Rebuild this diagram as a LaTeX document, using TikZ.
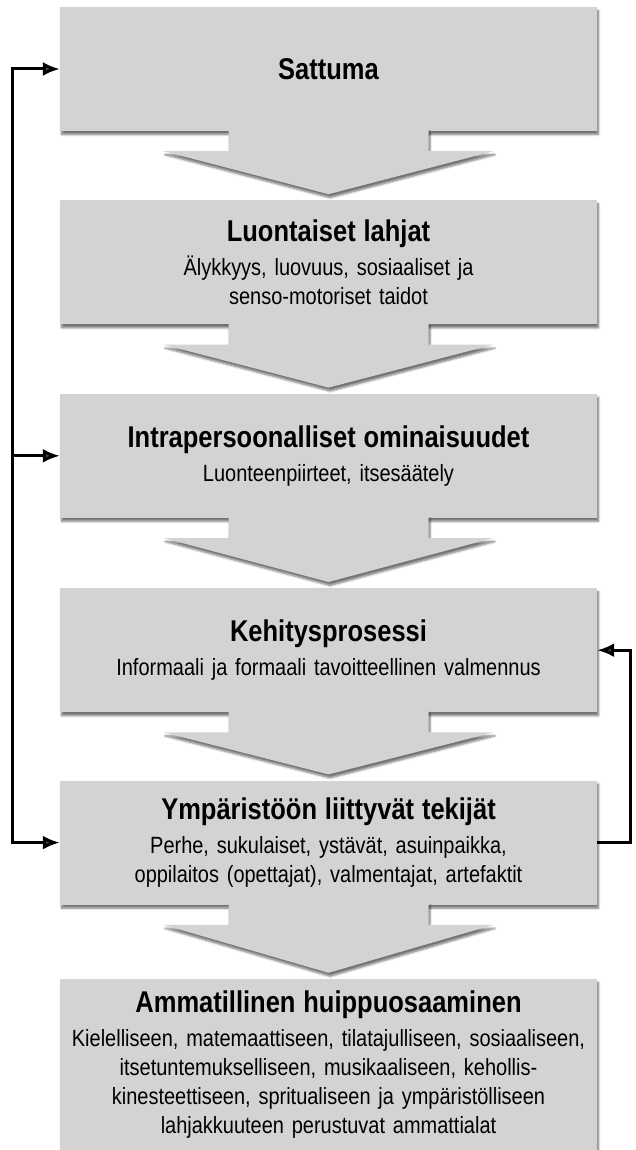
\documentclass[tikz,border=0pt]{standalone}
\usepackage{fontspec}
\setmainfont{Liberation Sans}[FakeStretch=0.85]
\usetikzlibrary{positioning,calc,arrows.meta,shadows.blur}

\definecolor{boxgray}{RGB}{211,211,211}
\tikzset{
  stage/.style={fill=boxgray, minimum width=537pt, minimum height=124pt, inner sep=0pt,
    text width=530pt, align=center, font=\fontsize{23.5}{29}\selectfont,
    blur shadow={shadow xshift=1.5pt, shadow yshift=-3.5pt, shadow blur steps=6, shadow opacity=55}},
  flow/.style={fill=boxgray, blur shadow={shadow xshift=1.5pt, shadow yshift=-3.5pt, shadow blur steps=6, shadow opacity=55}},
  feedback/.style={line width=3pt, -{Latex[length=17pt,width=14pt]}}
}
\newcommand{\stagetitle}[1]{{\bfseries\fontsize{30}{29}\selectfont #1}}
\newcommand{\flowarrow}[2]{%
  \fill[flow] ($(#1.south)+(-100,-2)$) -- ($(#1.south)+(-100,20)$) -- ($(#1.south)+(-165,20)$)
    -- ($(#2.north)+(0,-6)$) -- ($(#1.south)+(165,20)$) -- ($(#1.south)+(100,20)$)
    -- ($(#1.south)+(100,-2)$) -- cycle;}

\begin{document}
\begin{tikzpicture}[x=1pt, y=-1pt]
\useasboundingbox (0,0) rectangle (635,1150);

\node (sattuma) [stage] at (328.5,69) {\stagetitle{Sattuma}};
\node (lahjat) [stage, below=69pt of sattuma] {\stagetitle{Luontaiset lahjat}\\[5pt]
  Älykkyys, luovuus, sosiaaliset ja\\ senso-motoriset taidot};
\node (ominaisuudet) [stage, below=69pt of lahjat] {\stagetitle{Intrapersoonalliset ominaisuudet}\\[5pt]
  Luonteenpiirteet, itsesäätely};
\node (prosessi) [stage, below=70pt of ominaisuudet] {\stagetitle{Kehitysprosessi}\\[5pt]
  Informaali ja formaali tavoitteellinen valmennus};
\node (ymparisto) [stage, below=68pt of prosessi] {\stagetitle{Ympäristöön liittyvät tekijät}\\[5pt]
  Perhe, sukulaiset, ystävät, asuinpaikka,\\ oppilaitos (opettajat), valmentajat, artefaktit};
\node (huippu) [stage, minimum height=171pt, below=74pt of ymparisto] {\stagetitle{Ammatillinen huippuosaaminen}\\[5pt]
  Kielelliseen, matemaattiseen, tilatajulliseen, sosiaaliseen,\\
  itsetuntemukselliseen, musikaaliseen, kehollis-\\
  kinesteettiseen, spritualiseen ja ympäristölliseen\\
  lahjakkuuteen perustuvat ammattialat};

\foreach \a/\b in {sattuma/lahjat, lahjat/ominaisuudet, ominaisuudet/prosessi,
                   prosessi/ymparisto, ymparisto/huippu}
  \flowarrow{\a}{\b};

\coordinate (vasen) at (12,0);
\coordinate (oikea) at (630,0);

\draw[feedback, {Latex[length=17pt,width=14pt]}-{Latex[length=17pt,width=14pt]}]
  (ymparisto.west) -| (vasen |- sattuma.west) -- (sattuma.west);
\draw[feedback] (vasen |- ominaisuudet.west) -- (ominaisuudet.west);
\draw[feedback] (ymparisto.east) -| (oikea |- prosessi.east) -- (prosessi.east);

\end{tikzpicture}
\end{document}
